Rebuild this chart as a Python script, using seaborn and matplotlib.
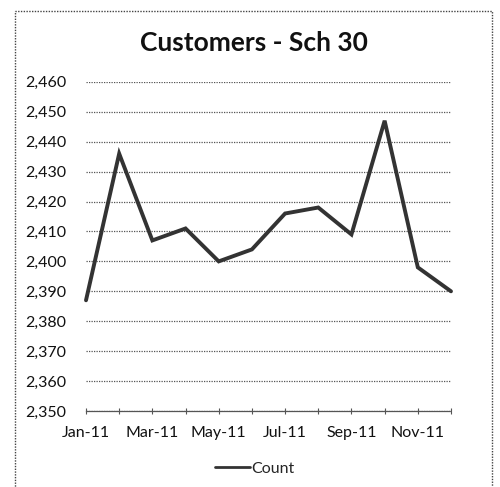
"""Recreate the 'Customers - Sch 30' monthly count line chart."""

import matplotlib

matplotlib.use("Agg")

import matplotlib.pyplot as plt
import matplotlib.ticker as mticker
import pandas as pd
import seaborn as sns
from matplotlib.patches import Rectangle

# data
months = ["Jan-11", "Feb-11", "Mar-11", "Apr-11", "May-11", "Jun-11",
          "Jul-11", "Aug-11", "Sep-11", "Oct-11", "Nov-11", "Dec-11"]
counts = [2387, 2436, 2407, 2411, 2400, 2404, 2416, 2418, 2409, 2447, 2398, 2390]
shown_labels = ["Jan-11", "", "Mar-11", "", "May-11", "", "Jul-11", "",
                "Sep-11", "", "Nov-11", ""]
y_ticks = [2350, 2360, 2370, 2380, 2390, 2400, 2410, 2420, 2430, 2440, 2450, 2460]

TITLE = "Customers - Sch 30"
SERIES = "Count"


def main() -> None:
    sns.set_theme(style="white")
    plt.rcParams["font.family"] = ["Lato", "DejaVu Sans"]

    df = pd.DataFrame({"month": months, "count": counts})

    fig = plt.figure(figsize=(5.0, 4.87), dpi=100)
    ax = fig.add_axes([0.172, 0.156, 0.730, 0.676])

    sns.lineplot(data=df, x="month", y="count", sort=False, color="#333333",
                 linewidth=2.8, label=SERIES, ax=ax)
    for line in ax.lines:
        line.set_clip_on(False)
        line.set_solid_joinstyle("miter")

    ax.set_xlim(0, len(months) - 1)
    ax.set_ylim(y_ticks[0], y_ticks[-1])
    ax.set_yticks(y_ticks)
    ax.yaxis.set_major_formatter(mticker.StrMethodFormatter("{x:,.0f}"))
    ax.set_xticks(range(len(months)), shown_labels)
    ax.set_xlabel("")
    ax.set_ylabel("")

    # dotted horizontal gridlines like the scanned Excel chart
    ax.grid(axis="y", linestyle=(0, (1, 1)), color="#555555", linewidth=0.9)
    ax.grid(axis="x", visible=False)
    for side in ("left", "right", "top"):
        ax.spines[side].set_visible(False)
    ax.spines["bottom"].set_color("#555555")
    ax.spines["bottom"].set_linestyle((0, (1, 1)))
    ax.spines["bottom"].set_linewidth(0.9)

    ax.tick_params(axis="y", length=0, pad=14, labelsize=11.5, labelcolor="#111111")
    ax.tick_params(axis="x", direction="inout", length=5, width=0.8, color="#555555",
                   pad=8, labelsize=11.5, labelcolor="#111111", bottom=True)

    fig.text(0.508, 0.911, TITLE, ha="center", va="center", fontsize=19,
             fontweight="bold", color="#111111")

    leg = ax.legend(loc="center", bbox_to_anchor=(0.51, 0.037), bbox_transform=fig.transFigure,
                    frameon=False, fontsize=11.5, handlelength=2.2, handletextpad=0.1)
    for handle in leg.get_lines():
        handle.set_linewidth(2.0)

    # dotted chart-area border
    fig.patches.append(Rectangle((0.030, -0.02), 0.954, 0.997, transform=fig.transFigure,
                                 fill=False, edgecolor="#444444", linewidth=1.0,
                                 linestyle=(0, (1, 1))))

    fig.savefig("out.png", dpi=100)
    plt.close(fig)


if __name__ == "__main__":
    main()
